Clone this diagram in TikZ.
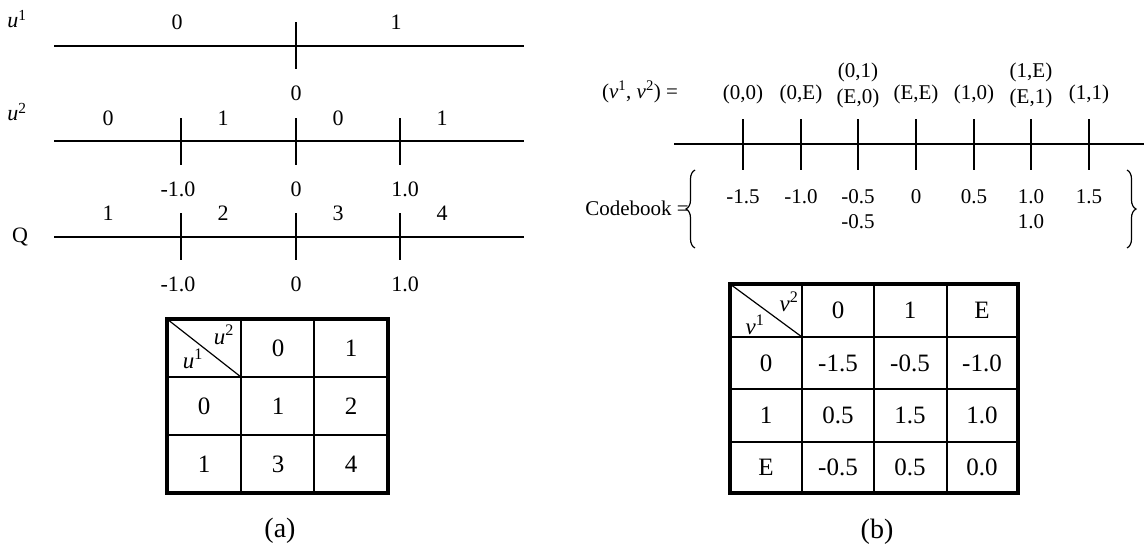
\documentclass[tikz,border=0pt]{standalone}
\usepackage{fontspec}
\setmainfont{Liberation Serif}
\usetikzlibrary{decorations.pathreplacing}
\tikzset{
  axisline/.style={line width=1.3pt},
  tickmark/.style={line width=1.3pt},
  lbl/.style={inner sep=0pt, font=\fontsize{22}{26}\selectfont},
  rlbl/.style={inner sep=0pt, font=\fontsize{21}{25}\selectfont},
  cell/.style={inner sep=0pt, font=\fontsize{25}{30}\selectfont},
  hdr/.style={inner sep=0pt, font=\fontsize{23}{28}\selectfont},
  captionlbl/.style={inner sep=0pt, font=\fontsize{28}{32}\selectfont},
  outer/.style={line width=4pt},
  inner/.style={line width=1.2pt},
  bracedeco/.style={line width=1.2pt, decorate, decoration={brace, amplitude=9pt}}
}
\begin{document}
\begin{tikzpicture}[x=1pt,y=-1pt]
\useasboundingbox (0,0) rectangle (1144,550);
% ---------- (a) axes ----------
\node[lbl] (u1) at (17,19) {\textit{u}\textsuperscript{1}};
\node[lbl] (u2) at (17,112) {\textit{u}\textsuperscript{2}};
\node[lbl] (q) at (20,237) {Q};
% line 1
\coordinate (l1s) at (54,46); \coordinate (l1e) at (524,46);
\draw[axisline] (l1s) -- (l1e);
\draw[tickmark] (296,22) -- (296,69);
\node[lbl] (l1a) at (177,22) {0};
\node[lbl] (l1b) at (396,22) {1};
\node[lbl] (l1c) at (296,93) {0};
% line 2
\coordinate (l2s) at (54,141); \coordinate (l2e) at (524,141);
\draw[axisline] (l2s) -- (l2e);
\foreach \x in {181,296,400} \draw[tickmark] (\x,118) -- (\x,165);
\node[lbl] (l2a) at (108,118) {0};
\node[lbl] (l2b) at (223,118) {1};
\node[lbl] (l2c) at (338,118) {0};
\node[lbl] (l2d) at (442,118) {1};
\node[lbl] (l2m) at (178,189) {-1.0};
\node[lbl] (l2z) at (296,189) {0};
\node[lbl] (l2p) at (405,189) {1.0};
% line 3
\coordinate (l3s) at (54,237); \coordinate (l3e) at (524,237);
\draw[axisline] (l3s) -- (l3e);
\foreach \x in {181,296,400} \draw[tickmark] (\x,213) -- (\x,260);
\node[lbl] (l3a) at (108,213) {1};
\node[lbl] (l3b) at (223,213) {2};
\node[lbl] (l3c) at (338,213) {3};
\node[lbl] (l3d) at (442,213) {4};
\node[lbl] (l3m) at (178,284) {-1.0};
\node[lbl] (l3z) at (296,284) {0};
\node[lbl] (l3p) at (405,284) {1.0};
% ---------- table (a) ----------
\foreach \x in {241,314} \draw[inner] (\x,319) -- (\x,493);
\foreach \y in {377,435} \draw[inner] (167,\y) -- (388,\y);
\draw[inner] (167,319) -- (241,377);
\draw[outer] (167,319) rectangle (388,493);
\node[hdr] (ta21) at (224,335) {\textit{u}\textsuperscript{2}};
\node[hdr] (ta11) at (193,359) {\textit{u}\textsuperscript{1}};
\node[cell] (ta01) at (278,348) {0};
\node[cell] (ta02) at (351,348) {1};
\node[cell] (ta10) at (204,406) {0};
\node[cell] (ta11v) at (278,406) {1};
\node[cell] (ta12) at (351,406) {2};
\node[cell] (ta20) at (204,464) {1};
\node[cell] (ta21v) at (278,464) {3};
\node[cell] (ta22) at (351,464) {4};
\node[captionlbl] (capa) at (280,531) {(a)};
% ---------- (b) axis ----------
\node[rlbl] (vv) at (640,92) {(\textit{v}\textsuperscript{1}, \textit{v}\textsuperscript{2}) =};
\coordinate (rs) at (674,144); \coordinate (re) at (1144,144);
\draw[axisline] (rs) -- (re);
\foreach \x in {743,801,858,916,974,1031,1089} \draw[tickmark] (\x,119) -- (\x,170);
\node[rlbl] (p1) at (743,94) {(0,0)};
\node[rlbl] (p2) at (801,94) {(0,E)};
\node[rlbl] (p3a) at (858,72) {(0,1)};
\node[rlbl] (p3b) at (858,98) {(E,0)};
\node[rlbl] (p4) at (916,94) {(E,E)};
\node[rlbl] (p5) at (974,94) {(1,0)};
\node[rlbl] (p6a) at (1031,72) {(1,E)};
\node[rlbl] (p6b) at (1031,98) {(E,1)};
\node[rlbl] (p7) at (1089,94) {(1,1)};
\node[rlbl, anchor=east] (cb) at (689,208) {Codebook =};
\draw[bracedeco] (695,248) -- (695,170);
\draw[bracedeco] (1127,170) -- (1127,248);
\node[rlbl] (c1) at (743,197) {-1.5};
\node[rlbl] (c2) at (801,197) {-1.0};
\node[rlbl] (c3) at (858,197) {-0.5};
\node[rlbl] (c3b) at (858,222) {-0.5};
\node[rlbl] (c4) at (916,197) {0};
\node[rlbl] (c5) at (974,197) {0.5};
\node[rlbl] (c6) at (1031,197) {1.0};
\node[rlbl] (c6b) at (1031,222) {1.0};
\node[rlbl] (c7) at (1089,197) {1.5};
% ---------- table (b) ----------
\foreach \x in {802,874,947} \draw[inner] (\x,284) -- (\x,493);
\foreach \y in {337,389,442} \draw[inner] (730,\y) -- (1018,\y);
\draw[inner] (730,284) -- (802,337);
\draw[outer] (730,284) rectangle (1018,493);
\node[hdr] (tbv2) at (789,302) {\textit{v}\textsuperscript{2}};
\node[hdr] (tbv1) at (755,325) {\textit{v}\textsuperscript{1}};
\node[cell] (tb01) at (838,310) {0};
\node[cell] (tb02) at (910,310) {1};
\node[cell] (tb03) at (982,310) {E};
\node[cell] (tb10) at (766,363) {0};
\node[cell] (tb11) at (838,363) {-1.5};
\node[cell] (tb12) at (910,363) {-0.5};
\node[cell] (tb13) at (982,363) {-1.0};
\node[cell] (tb20) at (766,415) {1};
\node[cell] (tb21) at (838,415) {0.5};
\node[cell] (tb22) at (910,415) {1.5};
\node[cell] (tb23) at (982,415) {1.0};
\node[cell] (tb30) at (766,467) {E};
\node[cell] (tb31) at (838,467) {-0.5};
\node[cell] (tb32) at (910,467) {0.5};
\node[cell] (tb33) at (982,467) {0.0};
\node[captionlbl] (capb) at (877,532) {(b)};
\end{tikzpicture}
\end{document}
